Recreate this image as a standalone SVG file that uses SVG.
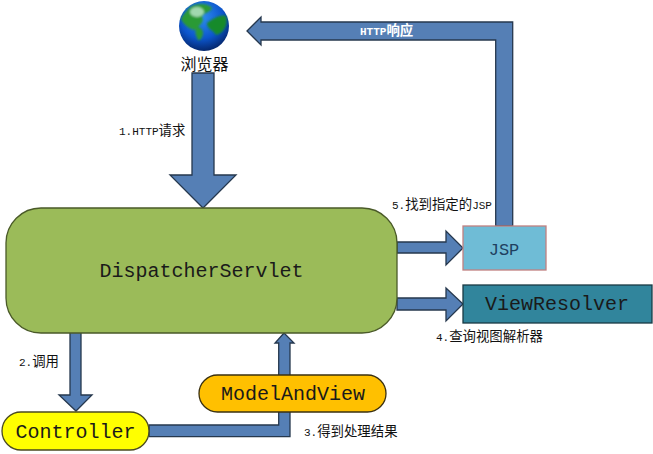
<svg xmlns="http://www.w3.org/2000/svg" width="653" height="454" viewBox="0 0 653 454">
<style>
.a{fill:#557fb5;stroke:#26384e;stroke-width:1.3;stroke-linejoin:miter}
.n{stroke-width:1.3}
.m{font-family:"Liberation Mono","DejaVu Sans Mono",monospace;font-size:20px;fill:#1a1a1a;text-anchor:middle}
.l{font-family:"Liberation Mono","DejaVu Sans Mono",monospace;font-size:11px;fill:#111}
.c{font-family:"Noto Sans CJK SC",sans-serif;font-size:13.400px}
</style>
<defs>
<radialGradient id="g" cx="0.45" cy="0.32" r="0.72">
<stop offset="0" stop-color="#2f8ff0"/><stop offset="0.6" stop-color="#0c55cc"/><stop offset="1" stop-color="#04205e"/>
</radialGradient>
<filter id="b" x="-20%" y="-20%" width="140%" height="140%"><feGaussianBlur stdDeviation="1"/></filter>
</defs>
<rect width="653" height="454" fill="#fff"/>
<g id="connectors">
<path class="a" d="M192 73H214V175H236L203 208L170 175H192Z"/>
<path class="a" d="M247 31L261 17V22H512.700V226H495.700V40H261V45Z"/>
<path class="a" d="M397 242H446V231L463 248L446 265V253H397Z"/>
<path class="a" d="M397 298H446V288L463 304L446 321V310H397Z"/>
<path class="a" d="M70 331H81V395H92L76 411L59 395H70Z"/>
<path class="a" d="M149 425H278.700V343H275L284 333L294 343H290V436.700H149Z"/>
</g>
<g id="browser">
<circle cx="204" cy="26" r="25" fill="url(#g)"/>
<g filter="url(#b)">
<path d="M190 7C196 3 208 3 212 8C210 13 204 12 202 17C205 22 199 25 196 30C190 30 184 25 181 19C183 14 187 11 190 7Z" fill="#2c9a35"/>
<path d="M207 23C213 19 220 14 226 16C229 26 222 34 216 35C213 30 207 29 207 23Z" fill="#178a2c"/>
<path d="M197 27C201 27 203 30 203 34C202 38 200 41 198 40C196 36 194 31 197 27Z" fill="#2c9a35"/>
<ellipse cx="197" cy="12" rx="7" ry="5" fill="#c8ecd8" opacity=".75"/>
</g>
<text x="204.500" y="70" font-family="'Noto Sans CJK SC',sans-serif" font-size="16" fill="#111" text-anchor="middle">浏览器</text>
</g>
<text class="l" x="119" y="135">1.HTTP<tspan class="c">请求</tspan></text>
<text class="l" x="360" y="35" style="fill:#fff;font-weight:bold">HTTP<tspan class="c">响应</tspan></text>
<g id="dispatcher">
<rect class="n" x="6" y="208" width="391" height="125" rx="35" fill="#9bbb59" stroke="#4a5a28"/>
<text class="m" x="201.500" y="277">DispatcherServlet</text>
</g>
<g id="jsp">
<rect class="n" x="463" y="226" width="83" height="44" fill="#6fbcd6" stroke="#c08080"/>
<text class="m" x="504" y="255" style="font-size:17px;fill:#1f4060">JSP</text>
</g>
<g id="viewresolver">
<rect class="n" x="463" y="285" width="189" height="38" fill="#31859c" stroke="#1a3a44"/>
<text class="m" x="557" y="310">ViewResolver</text>
</g>
<g id="controller">
<rect class="n" x="2" y="412" width="147" height="38" rx="19" fill="#ffff00" stroke="#4a4a20"/>
<text class="m" x="75.500" y="438">Controller</text>
</g>
<g id="modelandview">
<rect class="n" x="199" y="375" width="187" height="37" rx="18.500" fill="#ffc000" stroke="#3a3010"/>
<text class="m" x="293" y="400">ModelAndView</text>
</g>
<text class="l" x="392" y="209">5.<tspan class="c">找到指定的</tspan>JSP</text>
<text class="l" x="436" y="341">4.<tspan class="c">查询视图解析器</tspan></text>
<text class="l" x="19" y="366">2.<tspan class="c">调用</tspan></text>
<text class="l" x="304" y="436">3.<tspan class="c">得到处理结果</tspan></text>
</svg>
